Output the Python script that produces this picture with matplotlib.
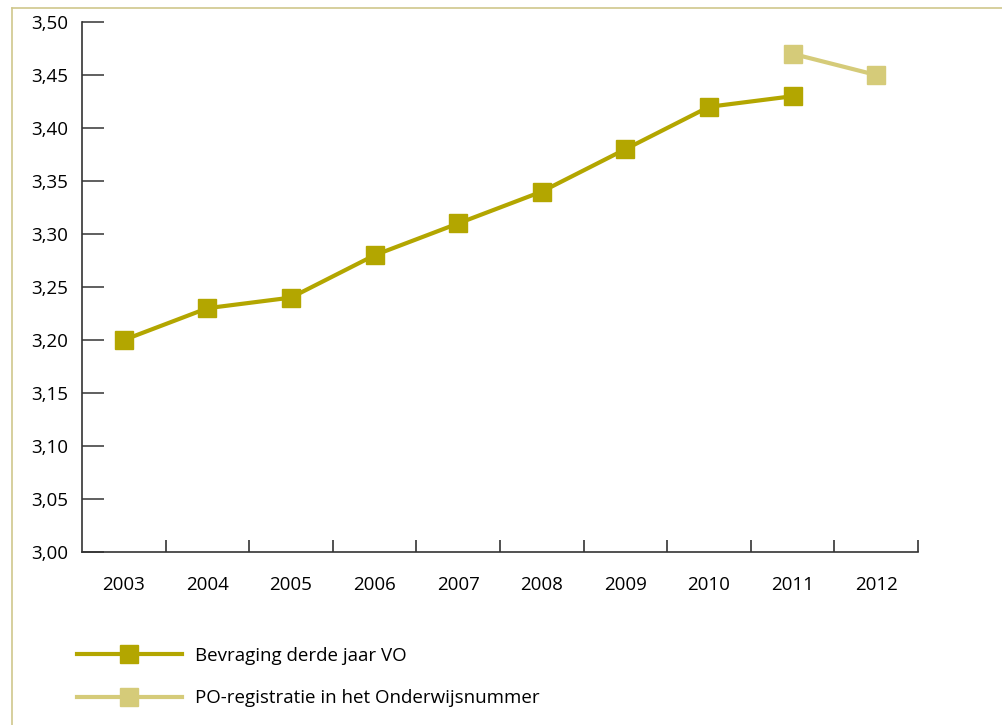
import matplotlib
matplotlib.use("Agg")
import matplotlib.pyplot as plt
from matplotlib.lines import Line2D

# data
years = ['2003', '2004', '2005', '2006', '2007', '2008', '2009', '2010', '2011', '2012']
bevraging = [3.20, 3.23, 3.24, 3.28, 3.31, 3.34, 3.38, 3.42, 3.43]
po_years = ['2011', '2012']
po_registratie = [3.47, 3.45]
yticks = [3.00, 3.05, 3.10, 3.15, 3.20, 3.25, 3.30, 3.35, 3.40, 3.45, 3.50]

DARK = '#b3a600'
LIGHT = '#d5cb79'
BORDER = '#cfc78c'
FS = 13.5

plt.rcParams['font.family'] = ['Open Sans', 'DejaVu Sans']

fig = plt.figure(figsize=(10.03, 7.25), dpi=100)
ax = fig.add_axes([82 / 1003, 1 - 552 / 725, (918 - 82) / 1003, (552 - 22) / 725])

x_main = [years.index(y) for y in years[:len(bevraging)]]
x_po = [years.index(y) for y in po_years]

ax.plot(x_main, bevraging, color=DARK, lw=3, marker='s', ms=13,
        label='Bevraging derde jaar VO')
ax.plot(x_po, po_registratie, color=LIGHT, lw=3, marker='s', ms=13,
        label='PO-registratie in het Onderwijsnummer')

ax.set_xlim(-0.5, len(years) - 0.5)
ax.set_ylim(3.0, 3.5)

for s in ['top', 'right']:
    ax.spines[s].set_visible(False)
for s in ['left', 'bottom']:
    ax.spines[s].set_color('#333333')
    ax.spines[s].set_linewidth(1.2)

ax.set_yticks(yticks)
ax.set_yticklabels([f'{v:.2f}'.replace('.', ',') for v in yticks])
ax.tick_params(axis='y', direction='in', length=16, width=1.2, color='#444444',
               labelsize=FS, pad=10)

ax.set_xticks(range(len(years)))
ax.set_xticklabels(years)
ax.tick_params(axis='x', which='major', length=0, labelsize=FS, pad=17)
ax.set_xticks([i + 0.5 for i in range(len(years))], minor=True)
ax.tick_params(axis='x', which='minor', direction='in', length=9, width=1.2,
               color='#333333')

# frame lines on top and left of the picture
fig.add_artist(Line2D([12 / 1003, 1], [1 - 8 / 725, 1 - 8 / 725], color=BORDER, lw=1.2))
fig.add_artist(Line2D([12 / 1003, 12 / 1003], [0, 1 - 8 / 725], color=BORDER, lw=1.2))

fig.legend(loc='upper left', bbox_to_anchor=(60 / 1003, 1 - 630 / 725), frameon=False,
           handlelength=5.6, handletextpad=0.7, labelspacing=1.3, fontsize=FS)

fig.savefig('out.png', dpi=100)
